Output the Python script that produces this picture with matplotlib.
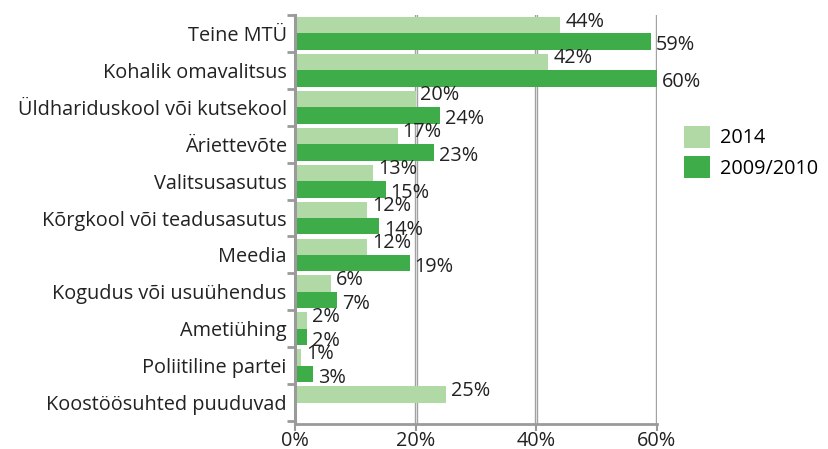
import numpy as np
import matplotlib.pyplot as plt
from matplotlib.ticker import FixedLocator

plt.rcParams['font.family'] = ['Open Sans', 'DejaVu Sans']

categories = ['Teine MTÜ', 'Kohalik omavalitsus', 'Üldhariduskool või kutsekool',
              'Äriettevõte', 'Valitsusasutus', 'Kõrgkool või teadusasutus', 'Meedia',
              'Kogudus või usuühendus', 'Ametiühing', 'Poliitiline partei',
              'Koostöösuhted puuduvad']
vals_2014 = [44, 42, 20, 17, 13, 12, 12, 6, 2, 1, 25]
vals_2009 = [59, 60, 24, 23, 15, 14, 19, 7, 2, 3, None]
series_names = ['2014', '2009/2010']

light = '#b1d9a6'
dark = '#3fac4a'
grid_gray = '#9a9a9a'
fs = 14.3

fig = plt.figure(figsize=(8.29, 4.49), dpi=100)
ax = fig.add_axes([295 / 829, 25 / 449, 362 / 829, 409 / 449])

n = len(categories)
y = np.arange(n)
h = 0.445

for gx in [20, 40, 60]:
    ax.axvline(gx, color=grid_gray, lw=2.4, zorder=0)
    ax.axvline(gx, color='#dcdcdc', lw=0.9, zorder=0)

b1 = ax.barh(y - h / 2, vals_2014, height=h, color=light, label=series_names[0], zorder=2)
v09 = [v if v is not None else 0 for v in vals_2009]
b2 = ax.barh(y + h / 2, v09, height=h, color=dark, label=series_names[1], zorder=2)

for i, v in enumerate(vals_2014):
    ax.text(v + 0.8, i - h / 2 - 0.1, f'{v}%', va='center', ha='left', fontsize=fs, color='#222222')
for i, v in enumerate(vals_2009):
    if v is None:
        continue
    ax.text(v + 0.8, i + h / 2 + 0.1, f'{v}%', va='center', ha='left', fontsize=fs, color='#222222')

ax.set_ylim(n - 0.5 + 0.08, -0.5)
ax.set_xlim(0, 60)
ax.set_yticks(y)
ax.set_yticklabels(categories, fontsize=fs, color='#222222')
ax.yaxis.set_minor_locator(FixedLocator(np.arange(-0.5, n, 1.0)))
ax.tick_params(axis='y', which='major', length=0, pad=6)
ax.tick_params(axis='y', which='minor', length=6, width=2, color=grid_gray, direction='out')

ax.set_xticks([0, 20, 40, 60])
ax.set_xticklabels(['0%', '20%', '40%', '60%'], fontsize=fs, color='#222222')
ax.tick_params(axis='x', length=5, width=1.5, color=grid_gray, pad=0)

for s in ['top', 'right']:
    ax.spines[s].set_visible(False)
ax.spines['left'].set_color(grid_gray)
ax.spines['left'].set_linewidth(2.2)
ax.spines['bottom'].set_color(grid_gray)
ax.spines['bottom'].set_linewidth(2)

leg = fig.legend(handles=[b1, b2], labels=series_names, loc='upper left',
                 bbox_to_anchor=(666 / 829, 1 - 108 / 449), frameon=False,
                 fontsize=fs, handlelength=1.3, handleheight=1.3,
                 labelspacing=0.4, handletextpad=0.5)

fig.savefig('out.png', dpi=100)
